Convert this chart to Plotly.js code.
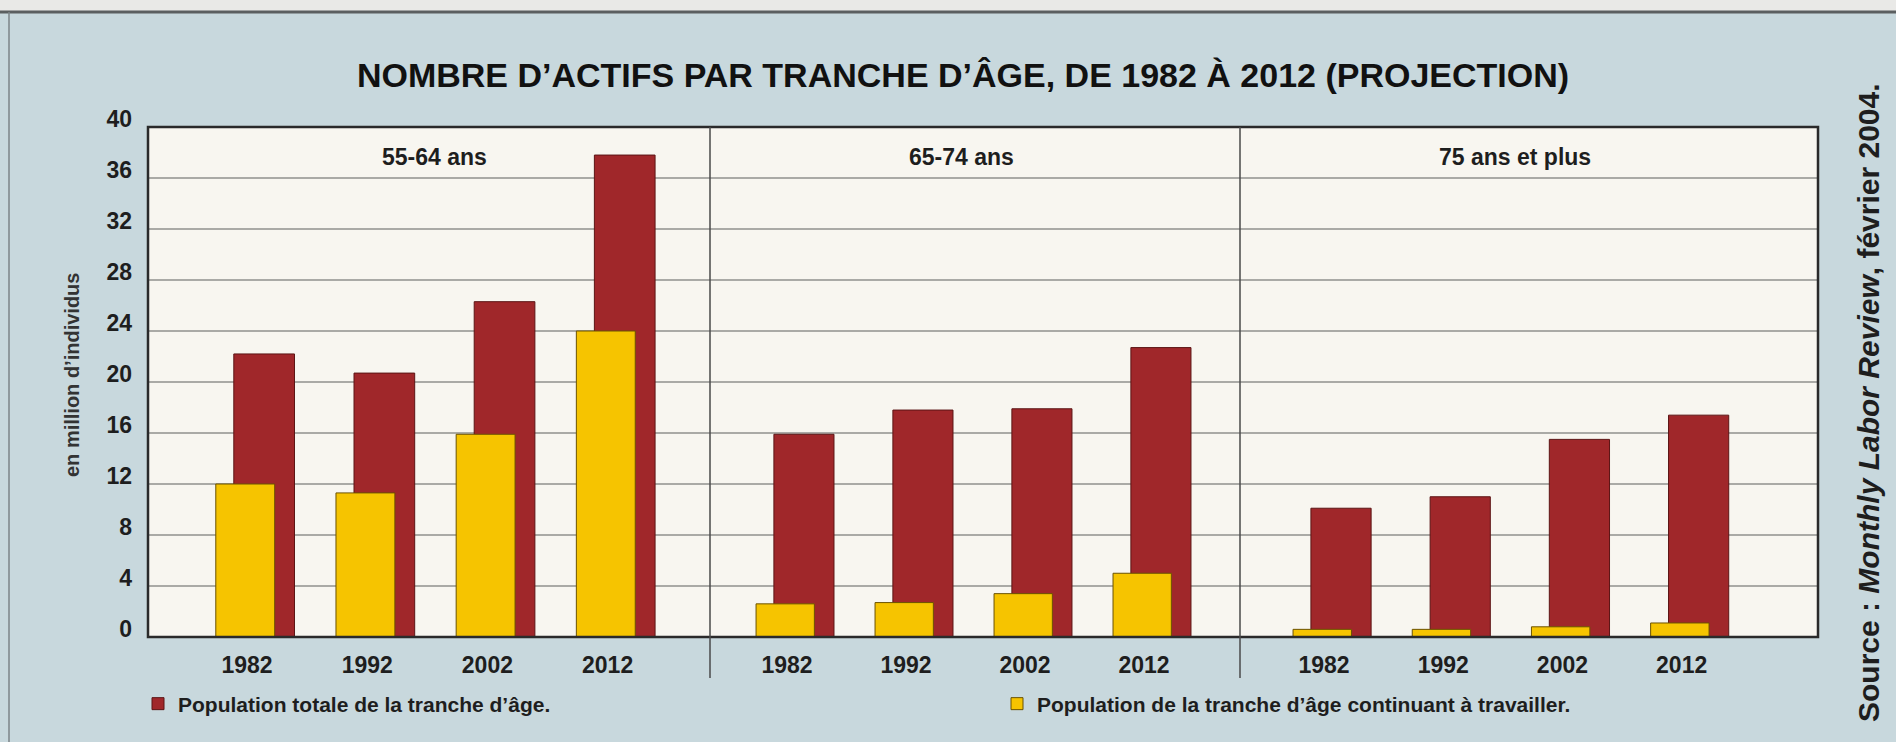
<!DOCTYPE html>
<html>
<head>
<meta charset="utf-8">
<script src="https://cdn.plot.ly/plotly-3.0.1.min.js"></script>
<style>
html,body{margin:0;padding:0;background:#c8d8dd;}
#chart{width:1896px;height:742px;}
</style>
</head>
<body>
<div id="chart"></div>
<script>
// ---- data ----
const years = ['1982', '1992', '2002', '2012'];
const groups = ['55-64 ans', '65-74 ans', '75 ans et plus'];
const totale_55_64 = [22.2, 20.7, 26.3, 37.8];
const actifs_55_64 = [12.0, 11.3, 15.9, 24.0];
const totale_65_74 = [15.9, 17.8, 17.9, 22.7];
const actifs_65_74 = [2.6, 2.7, 3.4, 5.0];
const totale_75plus = [10.1, 11.0, 15.5, 17.4];
const actifs_75plus = [0.6, 0.6, 0.8, 1.1];
const yTicks = [0, 4, 8, 12, 16, 20, 24, 28, 32, 36, 40];
const legendTotale = "Population totale de la tranche d\u2019âge.";
const legendActifs = "Population de la tranche d\u2019âge continuant à travailler.";

// ---- styling ----
const RED = '#a0272a', YEL = '#f6c400';
const SANS = '"Liberation Sans", Arial, sans-serif';
const INK = '#1e1e1e';

const totales = [totale_55_64, totale_65_74, totale_75plus];
const actifs = [actifs_55_64, actifs_65_74, actifs_75plus];
const xs = ['x', 'x2', 'x3'];

const traces = [];
for (let i = 0; i < 3; i++) {
  traces.push({
    type: 'bar', x: years, y: totales[i], xaxis: xs[i], yaxis: 'y',
    name: legendTotale, legendgroup: 'tot', showlegend: i === 0,
    width: 0.505, offset: -0.11,
    marker: {color: RED, line: {color: '#5c1515', width: 1}},
    hoverinfo: 'y'
  });
}
for (let i = 0; i < 3; i++) {
  traces.push({
    type: 'bar', x: years, y: actifs[i], xaxis: xs[i], yaxis: 'y',
    name: legendActifs, legendgroup: 'act', showlegend: i === 0,
    width: 0.49, offset: -0.26,
    marker: {color: YEL, line: {color: '#6b5200', width: 1}},
    hoverinfo: 'y'
  });
}

const W = 1896, H = 742;
const L = 148, R = 78, T = 127, B = 105;
const PW = W - L - R, PH = H - T - B;
const px = v => (v - L) / PW;      // pixel x -> paper
const py = v => (H - B - v) / PH;  // pixel y -> paper

const d1 = px(710), d2 = px(1240);
const xTickFont = {family: SANS, size: 23, color: INK, weight: 700};
function xax(domain, range) {
  return {
    domain: domain, type: 'category', range: range, anchor: 'y',
    showgrid: false, zeroline: false, showline: false, ticks: '',
    tickfont: xTickFont, ticklabelstandoff: 12, fixedrange: true
  };
}
const groupFont = {family: SANS, size: 23, color: INK, weight: 700};

const layout = {
  width: W, height: H,
  margin: {l: L, r: R, t: T, b: B},
  paper_bgcolor: '#c8d8dd',
  plot_bgcolor: '#f8f6f0',
  barmode: 'overlay',
  title: {
    text: 'NOMBRE D\u2019ACTIFS PAR TRANCHE D\u2019ÂGE, DE 1982 À 2012 (PROJECTION)',
    font: {family: SANS, size: 34, color: '#111', weight: 700},
    x: 963 / W, xref: 'container', xanchor: 'center',
    y: 1 - 75 / H, yref: 'container', yanchor: 'middle'
  },
  xaxis: xax([0, d1], [-0.824, 3.852]),
  xaxis2: xax([d1, d2], [-0.647, 3.807]),
  xaxis3: xax([d2, 1], [-0.705, 4.144]),
  yaxis: {
    range: [0, 40], tickvals: yTicks, ticktext: yTicks.map(String),
    showgrid: true, gridcolor: '#aaaaa6', gridwidth: 1.5,
    zeroline: false, showline: false, ticks: '',
    tickfont: {family: SANS, size: 23, color: INK, weight: 700},
    ticklabelshift: -8, ticklabelstandoff: 15, fixedrange: true
  },
  showlegend: true,
  legend: {
    orientation: 'h', x: px(138), xanchor: 'left', y: py(704), yanchor: 'middle',
    font: {family: SANS, size: 21, color: INK, weight: 700},
    bgcolor: 'rgba(0,0,0,0)', entrywidth: 814, entrywidthmode: 'pixels',
    itemwidth: 30, traceorder: 'normal'
  },
  shapes: [
    // page strip above the box
    {type: 'rect', xref: 'paper', yref: 'paper', x0: px(-20), x1: px(1920), y0: py(12), y1: py(-20),
     fillcolor: '#e9e9e7', line: {width: 0}, layer: 'below'},
    {type: 'line', xref: 'paper', yref: 'paper', x0: px(-20), x1: px(1920), y0: py(12), y1: py(12),
     line: {color: '#5b5f60', width: 3}},
    {type: 'line', xref: 'paper', yref: 'paper', x0: px(9), x1: px(9), y0: py(12), y1: py(742),
     line: {color: '#7d8587', width: 1.5}},
    // plot frame
    {type: 'rect', xref: 'paper', yref: 'paper', x0: 0, x1: 1, y0: 0, y1: 1,
     line: {color: '#2a2a2a', width: 2.5}, layer: 'above'},
    // panel dividers
    {type: 'line', xref: 'paper', yref: 'paper', x0: d1, x1: d1, y0: 1, y1: py(678),
     line: {color: '#4a4a4a', width: 1.5}},
    {type: 'line', xref: 'paper', yref: 'paper', x0: d2, x1: d2, y0: 1, y1: py(678),
     line: {color: '#4a4a4a', width: 1.5}}
  ],
  annotations: [
    {text: groups[0], xref: 'x domain', yref: 'paper', x: 0.51, y: py(157), showarrow: false,
     font: groupFont, xanchor: 'center', yanchor: 'middle'},
    {text: groups[1], xref: 'x2 domain', yref: 'paper', x: 0.474, y: py(157), showarrow: false,
     font: groupFont, xanchor: 'center', yanchor: 'middle'},
    {text: groups[2], xref: 'x3 domain', yref: 'paper', x: 0.476, y: py(157), showarrow: false,
     font: groupFont, xanchor: 'center', yanchor: 'middle'},
    {text: 'en million d\u2019individus', xref: 'paper', yref: 'paper', x: px(72), y: py(375),
     textangle: -90, showarrow: false, font: {family: SANS, size: 20, color: '#333', weight: 700},
     xanchor: 'center', yanchor: 'middle'},
    {text: 'Source : <i>Monthly Labor Review</i>, février 2004.', xref: 'paper', yref: 'paper',
     x: px(1868), y: py(402), textangle: -90, showarrow: false,
     font: {family: SANS, size: 30, color: INK, weight: 700}, xanchor: 'center', yanchor: 'middle'}
  ]
};

Plotly.newPlot('chart', traces, layout, {displayModeBar: false, staticPlot: true});
</script>
</body>
</html>
